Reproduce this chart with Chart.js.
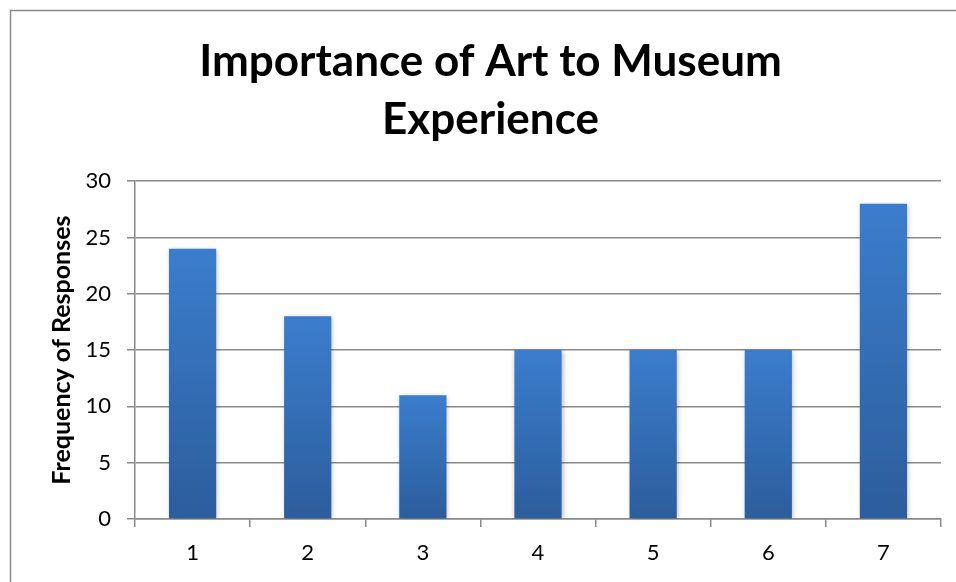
<!DOCTYPE html>
<html>
<head>
<meta charset="utf-8">
<script src="https://cdn.jsdelivr.net/npm/chart.js@4"></script>
<style>
  html, body { margin: 0; padding: 0; background: #fff; }
  #wrap { position: relative; width: 956px; height: 582px; }
</style>
</head>
<body>
<div id="wrap"><canvas id="artChart" width="956" height="582"></canvas></div>
<script>
const categories = ["1", "2", "3", "4", "5", "6", "7"];
const frequencies = [24, 18, 11, 15, 15, 15, 28];
const yTicks = [0, 5, 10, 15, 20, 25, 30];

const FONT = "Lato, 'Open Sans', sans-serif";

// outer frame, only top and left edges are visible in the crop
const framePlugin = {
  id: "frame",
  beforeDraw(chart) {
    const ctx = chart.ctx;
    ctx.save();
    ctx.strokeStyle = "#8a8a8a";
    ctx.lineWidth = 1.5;
    ctx.beginPath();
    ctx.moveTo(10.5, chart.height + 5);
    ctx.lineTo(10.5, 10.5);
    ctx.lineTo(chart.width + 5, 10.5);
    ctx.stroke();
    ctx.restore();
  },
};

// soft drop shadow behind the bars
const shadowPlugin = {
  id: "barShadow",
  beforeDatasetsDraw(chart) {
    const ctx = chart.ctx;
    ctx.save();
    ctx.shadowColor = "rgba(0,0,0,0.3)";
    ctx.shadowBlur = 5;
    ctx.shadowOffsetX = 1;
    ctx.shadowOffsetY = 1;
  },
  afterDatasetsDraw(chart) {
    chart.ctx.restore();
  },
};

function barGradient(context) {
  const chart = context.chart;
  if (!chart.chartArea || context.raw === undefined) return "#3a78c6";
  const y = chart.scales.y;
  const top = y.getPixelForValue(context.raw);
  const bottom = y.getPixelForValue(0);
  const g = chart.ctx.createLinearGradient(0, top, 0, bottom);
  g.addColorStop(0, "#3b7dcd");
  g.addColorStop(1, "#2c5d9c");
  return g;
}

const ctx = document.getElementById("artChart").getContext("2d");
new Chart(ctx, {
  type: "bar",
  data: {
    labels: categories,
    datasets: [
      {
        data: frequencies,
        backgroundColor: barGradient,
        borderWidth: 0,
        categoryPercentage: 1,
        barPercentage: 0.41,
      },
    ],
  },
  options: {
    responsive: false,
    animation: false,
    layout: { padding: { left: 40, right: 15, top: 20, bottom: 10 } },
    plugins: {
      legend: { display: false },
      tooltip: { enabled: false },
      title: {
        display: true,
        text: ["Importance of Art to Museum", "Experience"],
        color: "#000",
        font: { family: FONT, size: 44, weight: "bold", lineHeight: 1.32 },
        padding: { top: 13, bottom: 32 },
      },
    },
    scales: {
      x: {
        grid: {
          offset: true,
          drawOnChartArea: false,
          drawTicks: true,
          tickLength: 8,
          color: "#8a8a8a",
          lineWidth: 1.5,
        },
        border: { color: "#8a8a8a", width: 1.5 },
        ticks: {
          color: "#000",
          font: { family: FONT, size: 22 },
          padding: 13,
        },
        afterFit(scale) {
          scale.height = 53;
        },
      },
      y: {
        min: 0,
        max: 30,
        afterBuildTicks(scale) {
          scale.ticks = yTicks.map((v) => ({ value: v }));
        },
        grid: {
          drawTicks: true,
          tickLength: 8,
          color: "#8a8a8a",
          lineWidth: 1.5,
        },
        border: { color: "#8a8a8a", width: 1.5 },
        ticks: {
          color: "#000",
          font: { family: FONT, size: 22 },
          padding: 16,
        },
        title: {
          display: true,
          text: "Frequency of Responses",
          color: "#000",
          font: { family: FONT, size: 25, weight: "bold", lineHeight: 1.2 },
          padding: { top: 7, bottom: 0 },
        },
        afterFit(scale) {
          scale.width = 95;
        },
      },
    },
  },
  plugins: [framePlugin, shadowPlugin],
});
</script>
</body>
</html>
